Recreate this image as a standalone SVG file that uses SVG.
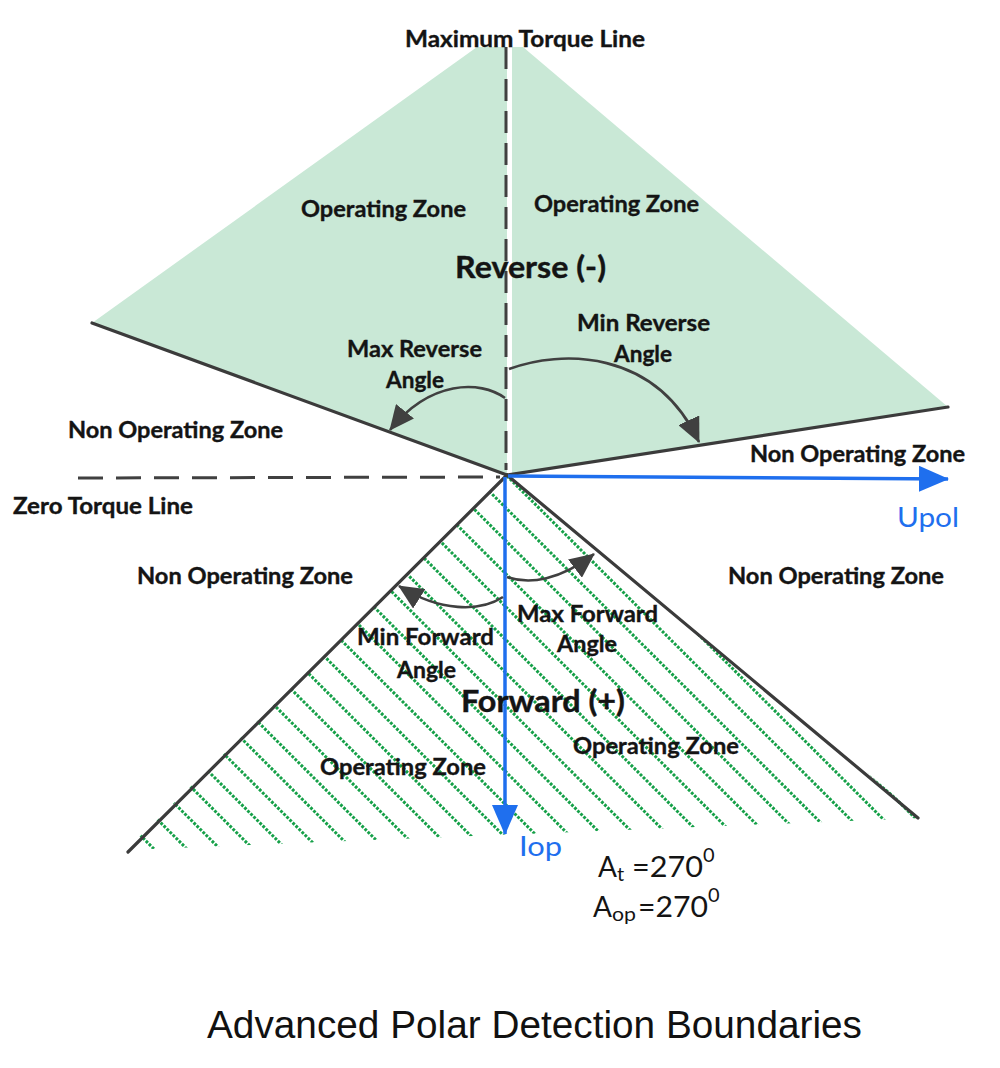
<svg xmlns="http://www.w3.org/2000/svg" width="1000" height="1068" viewBox="0 0 1000 1068">
<style>
.lbl{font-family:Lato,"Liberation Sans",sans-serif;font-weight:700;font-size:22px;fill:#141414;stroke:#141414;stroke-width:0.35}
.big{font-family:Lato,"Liberation Sans",sans-serif;font-weight:700;font-size:31px;fill:#141414;stroke:#141414;stroke-width:0.4}
.blue{font-family:Lato,"Liberation Sans",sans-serif;font-size:26px;fill:#1f6fee}
.eq{font-family:Lato,"Liberation Sans",sans-serif;font-size:28px;fill:#141414}
.sub{font-family:Lato,"Liberation Sans",sans-serif;font-size:20px;fill:#141414}
.title{font-family:"Liberation Sans",Arial,sans-serif;font-size:38px;fill:#111}
.edge{stroke:#3b3b3b;stroke-width:3.2;fill:none;stroke-linecap:round}
.dash{stroke:#404040;stroke-width:3;fill:none}
.hatch{stroke:#15a048;stroke-width:3;stroke-dasharray:2.8 1.5;fill:none}
.curve{stroke:#404040;stroke-width:2.6;fill:none;marker-end:url(#darkHead)}
.axis{stroke:#1f6fee;stroke-width:3.5;fill:none;marker-end:url(#blueHead)}
</style>
<defs>
<marker id="darkHead" viewBox="0 0 25 23" refX="24" refY="11.5" markerWidth="25" markerHeight="23" markerUnits="userSpaceOnUse" orient="auto">
<path d="M0,0 L25,11.5 L0,23 z" fill="#404040"/>
</marker>
<marker id="blueHead" viewBox="0 0 30 26" refX="29" refY="13" markerWidth="30" markerHeight="26" markerUnits="userSpaceOnUse" orient="auto">
<path d="M0,0 L30,13 L0,26 z" fill="#1f6fee"/>
</marker>
<clipPath id="fwdClip">
<polygon points="507,476 922,818 126,850"/>
</clipPath>
</defs>
<rect width="1000" height="1068" fill="#ffffff"/>

<g id="reverse-zone">
<polygon points="92,323 477,47 523,47 948,407 507,475" fill="#c9e8d6"/>
<rect x="507" y="47" width="5" height="426" fill="#ffffff"/>
</g>

<g id="forward-zone">
<path class="hatch" clip-path="url(#fwdClip)" d="M-219,476L161,856M-186,476L194,856M-153,476L227,856M-120,476L260,856M-87,476L293,856M-54,476L326,856M-21,476L359,856M12,476L392,856M45,476L425,856M78,476L458,856M111,476L491,856M144,476L524,856M177,476L557,856M210,476L590,856M243,476L623,856M276,476L656,856M309,476L689,856M342,476L722,856M375,476L755,856M408,476L788,856M441,476L821,856M474,476L854,856M507,476L887,856M540,476L920,856M573,476L953,856M606,476L986,856M639,476L1019,856M672,476L1052,856M705,476L1085,856M738,476L1118,856M771,476L1151,856M804,476L1184,856M837,476L1217,856M870,476L1250,856M903,476L1283,856"/>
</g>

<g id="connectors">
<line class="edge" x1="92" y1="323" x2="507" y2="475"/>
<line class="edge" x1="507" y1="475" x2="948" y2="407"/>
<line class="edge" x1="507" y1="475" x2="128" y2="852"/>
<line class="edge" x1="507" y1="475" x2="918" y2="818"/>
<line class="dash" x1="506" y1="47" x2="506" y2="470" stroke-dasharray="22 10"/>
<line class="dash" x1="78" y1="478" x2="500" y2="477" stroke-dasharray="25 13"/>
<line class="axis" x1="508" y1="476" x2="948" y2="479"/>
<line class="axis" x1="505" y1="477" x2="505" y2="834"/>
<path class="curve" d="M505,398 C480,380 430,380 390,430"/>
<path class="curve" d="M509,369 C560,350 655,348 699,442"/>
<path class="curve" d="M507,577 C530,585 560,580 594,554"/>
<path class="curve" d="M503,597 C480,612 440,612 399,586"/>
</g>

<g id="label-max-torque"><text class="lbl" x="405" y="47" textLength="240" lengthAdjust="spacingAndGlyphs">Maximum Torque Line</text></g>
<g id="label-op-tl"><text class="lbl" x="301" y="217" textLength="165" lengthAdjust="spacingAndGlyphs">Operating Zone</text></g>
<g id="label-op-tr"><text class="lbl" x="534" y="212" textLength="165" lengthAdjust="spacingAndGlyphs">Operating Zone</text></g>
<g id="label-reverse"><text class="big" x="455" y="278" textLength="151" lengthAdjust="spacingAndGlyphs">Reverse (-)</text></g>
<g id="label-min-reverse">
<text class="lbl" x="577" y="331" textLength="133" lengthAdjust="spacingAndGlyphs">Min Reverse</text>
<text class="lbl" x="614" y="362" textLength="58" lengthAdjust="spacingAndGlyphs">Angle</text>
</g>
<g id="label-max-reverse">
<text class="lbl" x="347" y="357" textLength="135" lengthAdjust="spacingAndGlyphs">Max Reverse</text>
<text class="lbl" x="386" y="388" textLength="58" lengthAdjust="spacingAndGlyphs">Angle</text>
</g>
<g id="label-nonop-l"><text class="lbl" x="68" y="438" textLength="215" lengthAdjust="spacingAndGlyphs">Non Operating Zone</text></g>
<g id="label-nonop-r"><text class="lbl" x="750" y="462" textLength="215" lengthAdjust="spacingAndGlyphs">Non Operating Zone</text></g>
<g id="label-zero-torque"><text class="lbl" x="13" y="514" textLength="180" lengthAdjust="spacingAndGlyphs">Zero Torque Line</text></g>
<g id="label-upol"><text class="blue" x="897" y="527" textLength="62" lengthAdjust="spacingAndGlyphs">Upol</text></g>
<g id="label-nonop-ll"><text class="lbl" x="137" y="584" textLength="216" lengthAdjust="spacingAndGlyphs">Non Operating Zone</text></g>
<g id="label-nonop-lr"><text class="lbl" x="728" y="584" textLength="216" lengthAdjust="spacingAndGlyphs">Non Operating Zone</text></g>
<g id="label-max-forward">
<text class="lbl" x="517" y="622" textLength="141" lengthAdjust="spacingAndGlyphs">Max Forward</text>
<text class="lbl" x="557" y="652" textLength="60" lengthAdjust="spacingAndGlyphs">Angle</text>
</g>
<g id="label-min-forward">
<text class="lbl" x="357" y="645" textLength="137" lengthAdjust="spacingAndGlyphs">Min Forward</text>
<text class="lbl" x="397" y="678" textLength="59" lengthAdjust="spacingAndGlyphs">Angle</text>
</g>
<g id="label-forward"><text class="big" x="461" y="712" textLength="164" lengthAdjust="spacingAndGlyphs">Forward (+)</text></g>
<g id="label-op-br"><text class="lbl" x="573" y="754" textLength="166" lengthAdjust="spacingAndGlyphs">Operating Zone</text></g>
<g id="label-op-bl"><text class="lbl" x="320" y="775" textLength="166" lengthAdjust="spacingAndGlyphs">Operating Zone</text></g>
<g id="label-iop"><text class="blue" x="519" y="856" textLength="43" lengthAdjust="spacingAndGlyphs">Iop</text></g>
<g id="label-at">
<text class="eq" x="598" y="877">A</text>
<text class="sub" x="617" y="881">t</text>
<text class="eq" x="632" y="877" textLength="71" lengthAdjust="spacingAndGlyphs">=270</text>
<text class="sub" x="703" y="862">0</text>
</g>
<g id="label-aop">
<text class="eq" x="593" y="917">A</text>
<text class="sub" x="612" y="921" textLength="24" lengthAdjust="spacingAndGlyphs">op</text>
<text class="eq" x="638" y="917" textLength="70" lengthAdjust="spacingAndGlyphs">=270</text>
<text class="sub" x="708" y="902">0</text>
</g>
<g id="title"><text class="title" x="207" y="1038" textLength="655" lengthAdjust="spacingAndGlyphs">Advanced Polar Detection Boundaries</text></g>
</svg>
